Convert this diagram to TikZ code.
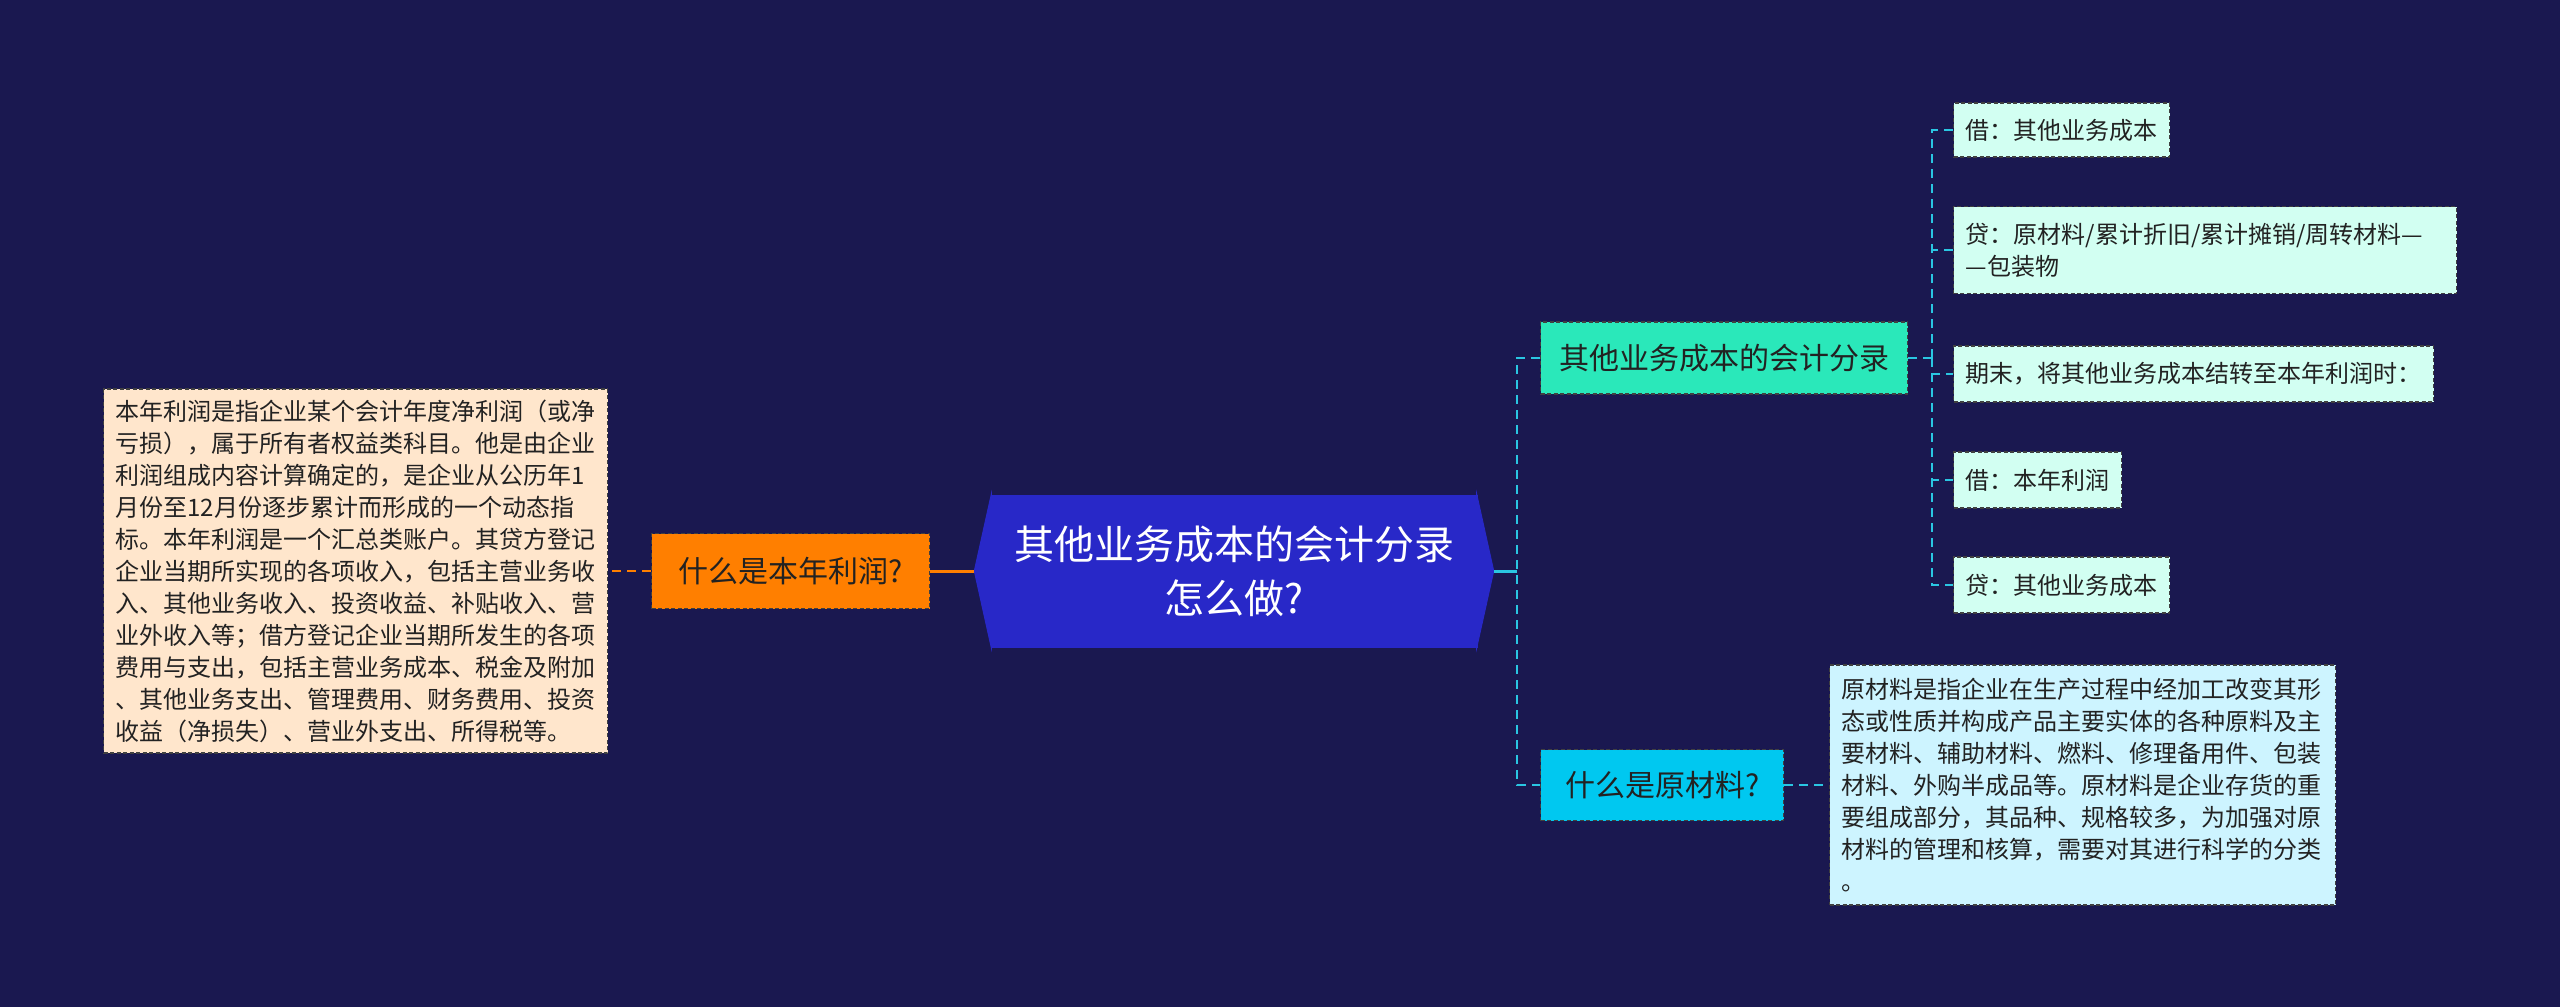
\documentclass[tikz,border=0pt]{standalone}
\usepackage{fontspec}
\setmainfont{Noto Sans CJK SC}
\definecolor{bg}{HTML}{1A1850}
\definecolor{rootfill}{HTML}{2828C8}
\definecolor{orangefill}{HTML}{FF7F00}
\definecolor{peach}{HTML}{FFE6CC}
\definecolor{tealfill}{HTML}{2AE8BA}
\definecolor{cyanfill}{HTML}{00C8F0}
\definecolor{leaffill}{HTML}{D2FFF2}
\definecolor{descfill}{HTML}{CDF4FF}
\definecolor{cyanline}{HTML}{2AC6E2}
\definecolor{txt}{HTML}{222222}
\tikzset{
  box/.style={draw=black!75,dash pattern=on 4pt off 2.5pt,line width=1.2pt,text=txt,
    inner xsep=12pt,inner ysep=4pt,align=left,anchor=west,font=\fontsize{24}{32}\selectfont},
  leaf/.style={box,fill=leaffill,minimum height=56pt},
  midbox/.style={box,font=\fontsize{30}{36}\selectfont,align=center},
  link/.style={line width=2.5pt,dash pattern=on 9pt off 6pt},
}
\begin{document}
\begin{tikzpicture}[x=1pt,y=-1pt]
\useasboundingbox (0,0) rectangle (2560,1007);
\fill[bg] (0,0) rectangle (2560,1007);
% centre
\node[fill=rootfill,text=white,minimum width=487pt,minimum height=153pt,align=center,
  font=\fontsize{40}{54}\selectfont] (root) at (1234,571) {其他业务成本的会计分录\\怎么做?};
\filldraw[rootfill,line width=1pt] ([xshift=1pt]root.north west) -- ([xshift=-16pt]root.west)
  -- ([xshift=1pt]root.south west) -- cycle;
\filldraw[rootfill,line width=1pt] ([xshift=-1pt]root.north east) -- ([xshift=16pt]root.east)
  -- ([xshift=-1pt]root.south east) -- cycle;
% left side
\node[midbox,fill=orangefill,minimum width=278pt,minimum height=75pt] (q1) at (651,571) {什么是本年利润?};
\node[box,fill=peach,text width=480pt,minimum height=364pt] (q1txt) at (103,571)
  {本年利润是指企业某个会计年度净利润（或净\\
   亏损），属于所有者权益类科目。他是由企业\\
   利润组成内容计算确定的，是企业从公历年1\\
   月份至12月份逐步累计而形成的一个动态指\\
   标。本年利润是一个汇总类账户。其贷方登记\\
   企业当期所实现的各项收入，包括主营业务收\\
   入、其他业务收入、投资收益、补贴收入、营\\
   业外收入等；借方登记企业当期所发生的各项\\
   费用与支出，包括主营业务成本、税金及附加\\
   、其他业务支出、管理费用、财务费用、投资\\
   收益（净损失）、营业外支出、所得税等。};
\draw[orangefill,line width=3pt] ([xshift=-16pt]root.west) -- (q1.east);
\draw[orangefill,link] (q1.west) -- (q1txt.east);
% right side
\node[midbox,fill=tealfill,minimum width=367pt,minimum height=72pt] (sec1) at (1540,358) {其他业务成本的会计分录};
\node[midbox,fill=cyanfill,minimum width=243pt,minimum height=71pt] (sec2) at (1540,785) {什么是原材料?};
\coordinate (rj) at (1517,571);
\draw[cyanline,line width=3pt] ([xshift=16pt]root.east) -- (rj);
\draw[cyanline,link] (sec1.west) -| (rj) |- (sec2.west);
\node[leaf,minimum height=54pt] (l1) at (1953,130) {借：其他业务成本};
\node[leaf,text width=479pt,minimum height=87pt] (l2) at (1953,250) {贷：原材料/累计折旧/累计摊销/周转材料—\\—包装物};
\node[leaf] (l3) at (1953,374) {期末，将其他业务成本结转至本年利润时：};
\node[leaf] (l4) at (1953,480) {借：本年利润};
\node[leaf] (l5) at (1953,585) {贷：其他业务成本};
\coordinate (lj) at (1932,358);
\draw[cyanline,link] (sec1.east) -- (lj);
\foreach \n in {l1,l2,l3,l4,l5}
  \draw[cyanline,link] (lj) |- (\n.west);
\node[box,fill=descfill,text width=482pt,minimum height=240pt] (desc) at (1829,785)
  {原材料是指企业在生产过程中经加工改变其形\\
   态或性质并构成产品主要实体的各种原料及主\\
   要材料、辅助材料、燃料、修理备用件、包装\\
   材料、外购半成品等。原材料是企业存货的重\\
   要组成部分，其品种、规格较多，为加强对原\\
   材料的管理和核算，需要对其进行科学的分类\\
   。};
\draw[cyanline,link] (sec2.east) -- (desc.west);
\end{tikzpicture}
\end{document}
